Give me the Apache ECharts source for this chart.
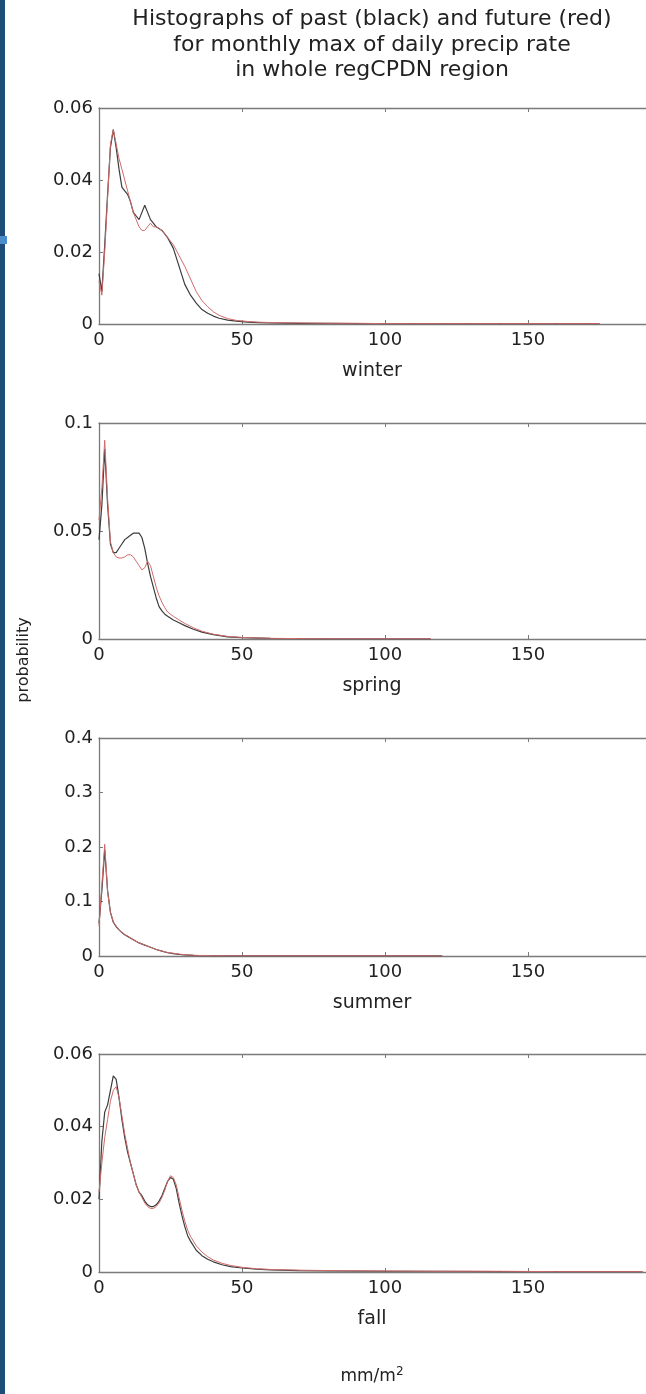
<!DOCTYPE html>
<html>
<head>
<meta charset="utf-8">
<script src="https://cdn.jsdelivr.net/npm/echarts@6/dist/echarts.min.js"></script>
<style>
html,body{margin:0;padding:0;background:#fff;}
#c{width:646px;height:1394px;}
</style>
</head>
<body>
<div id="c"></div>
<script>
// ---------------- data ----------------
const titleLines = ['Histographs of past (black) and future (red)', 'for monthly max of daily precip rate', 'in whole regCPDN region'];
const seasons = ['winter', 'spring', 'summer', 'fall'];
const yLabel = 'probability';
const xTicks = [0, 50, 100, 150];

const yMaxes = [0.06, 0.1, 0.4, 0.06];
const yIntervals = [0.02, 0.05, 0.1, 0.02];

const winterX = [0,1,2,3,4,5,6,7,8,9,10,11,12,13,14,15,16,17,18,19,20,22,24,26,28,30,32,34,36,38,40,42,45,48,52,56,60,70,80,90,100,110,120,130,140,150,160,170,175];
const winterPast = [0.014,0.009,0.022,0.036,0.049,0.054,0.049,0.043,0.038,0.037,0.036,0.034,0.031,0.030,0.029,0.031,0.033,0.031,0.029,0.028,0.027,0.026,0.024,0.021,0.016,0.011,0.008,0.0058,0.004,0.003,0.0022,0.0016,0.0011,0.0008,0.0005,0.0004,0.0003,0.0002,0.0002,0.0001,0.0001,0.0001,0.0001,0.0001,0.0001,0.0001,0.0001,0.0001,0.0001];
const winterFuture = [0.012,0.008,0.020,0.035,0.050,0.054,0.050,0.046,0.043,0.040,0.037,0.034,0.031,0.029,0.027,0.026,0.026,0.027,0.028,0.027,0.027,0.026,0.024,0.022,0.019,0.016,0.0125,0.009,0.0065,0.0048,0.0034,0.0024,0.0015,0.0010,0.0007,0.0005,0.0004,0.0003,0.0002,0.0002,0.0001,0.0001,0.0001,0.0001,0.0001,0.0001,0.0001,0.0001,0.0001];

const springX = [0,1,2,3,4,5,6,7,8,9,10,11,12,13,14,15,16,17,18,19,20,21,22,23,24,26,28,30,33,36,40,45,50,60,70,80,90,100,110,116];
const springPast = [0.046,0.062,0.088,0.062,0.044,0.040,0.040,0.042,0.044,0.046,0.047,0.048,0.049,0.049,0.049,0.047,0.042,0.035,0.029,0.024,0.019,0.015,0.013,0.0115,0.0105,0.0088,0.0075,0.0062,0.0045,0.0032,0.0020,0.0010,0.0006,0.0003,0.0002,0.0001,0.0001,0.0001,0.0001,0.0001];
const springFuture = [0.055,0.070,0.092,0.065,0.045,0.040,0.038,0.0375,0.0375,0.038,0.039,0.039,0.038,0.036,0.034,0.032,0.033,0.036,0.034,0.029,0.024,0.020,0.017,0.0145,0.0125,0.0105,0.0088,0.0072,0.0052,0.0036,0.0022,0.0012,0.0007,0.0003,0.0002,0.0001,0.0001,0.0001,0.0001,0.0001];

const summerX = [0,1,2,3,4,5,6,7,8,9,10,12,14,16,18,20,22,24,26,28,30,33,36,40,50,60,80,100,120];
const summerPast = [0.060,0.120,0.195,0.120,0.080,0.062,0.054,0.048,0.043,0.039,0.036,0.030,0.024,0.020,0.016,0.012,0.009,0.006,0.0045,0.003,0.002,0.0012,0.0007,0.0004,0.0002,0.0001,0.0001,0.0001,0.0001];
const summerFuture = [0.055,0.130,0.205,0.118,0.080,0.063,0.055,0.048,0.043,0.039,0.036,0.030,0.024,0.020,0.016,0.012,0.009,0.0065,0.005,0.0035,0.0024,0.0014,0.0008,0.0005,0.0002,0.0001,0.0001,0.0001,0.0001];

const fallX = [0,1,2,3,4,5,6,7,8,9,10,11,12,13,14,15,16,17,18,19,20,21,22,23,24,25,26,27,28,29,30,31,32,34,36,38,40,43,46,50,55,60,70,80,100,120,140,160,180,190];
const fallPast = [0.020,0.036,0.044,0.046,0.050,0.054,0.053,0.048,0.042,0.037,0.033,0.030,0.027,0.024,0.022,0.021,0.0195,0.0185,0.018,0.018,0.0185,0.0195,0.021,0.023,0.025,0.026,0.0255,0.023,0.019,0.0155,0.0125,0.010,0.0085,0.006,0.0045,0.0035,0.0028,0.002,0.0015,0.0011,0.0008,0.0006,0.0004,0.0003,0.0002,0.0002,0.0001,0.0001,0.0001,0.0001];
const fallFuture = [0.022,0.030,0.037,0.042,0.047,0.050,0.051,0.048,0.043,0.038,0.034,0.030,0.027,0.024,0.022,0.0205,0.019,0.018,0.0175,0.0175,0.018,0.019,0.0205,0.0225,0.025,0.0265,0.026,0.024,0.0205,0.017,0.014,0.0115,0.0098,0.0072,0.0055,0.0042,0.0033,0.0024,0.0018,0.0013,0.0009,0.0007,0.0005,0.0004,0.0003,0.0002,0.0002,0.0001,0.0001,0.0001];

const panelX = [winterX, springX, summerX, fallX];
const panelPast = [winterPast, springPast, summerPast, fallPast];
const panelFuture = [winterFuture, springFuture, summerFuture, fallFuture];

// ---------------- layout ----------------
const FONT = 'DejaVu Sans';
const gridTops = [108, 423, 738, 1054];
const gridHeights = [216, 216, 218, 218];
const gridLeft = 99;
const gridWidth = 572; // 0..200 ; right part falls outside the page like the reference
const axisColor = '#7a7a7a';
const textColor = '#222';

const grids = [], xAxes = [], yAxes = [], series = [], titles = [];
titles.push({
  text: titleLines.join('\n'), left: 372, top: 7, textAlign: 'center', padding: 0,
  textStyle: {fontFamily: FONT, fontSize: 22, fontWeight: 'normal', color: textColor, lineHeight: 25.5}
});
for (let i = 0; i < 4; i++) {
  grids.push({left: gridLeft, top: gridTops[i], width: gridWidth, height: gridHeights[i],
    containLabel: false, outerBoundsMode: 'none'});
  const common = {
    type: 'value', gridIndex: i, min: 0, max: 200, interval: 50,
    axisLine: {show: true, onZero: false, lineStyle: {color: axisColor, width: 1.3}},
    axisTick: {show: true, inside: true, length: 4, lineStyle: {color: axisColor}},
    splitLine: {show: false}
  };
  xAxes.push(Object.assign({}, common, {
    position: 'bottom',
    axisLabel: {show: true, fontFamily: FONT, fontSize: 18, color: textColor, margin: 7,
      formatter: v => xTicks.indexOf(v) >= 0 ? String(v) : ''}
  }));
  xAxes.push(Object.assign({}, common, {position: 'top', axisLabel: {show: false}}));
  yAxes.push({
    type: 'value', gridIndex: i, min: 0, max: yMaxes[i], interval: yIntervals[i],
    axisLine: {show: true, onZero: false, lineStyle: {color: axisColor, width: 1.3}},
    axisTick: {show: true, inside: true, length: 4, lineStyle: {color: axisColor}},
    splitLine: {show: false},
    axisLabel: {fontFamily: FONT, fontSize: 18, color: textColor, margin: 6,
      formatter: v => v === 0 ? '0' : String(+v.toFixed(3))}
  });
  const mk = (xs, ys) => xs.map((x, k) => [x, ys[k]]);
  series.push({type: 'line', xAxisIndex: 2 * i, yAxisIndex: i, data: mk(panelX[i], panelPast[i]),
    showSymbol: false, symbol: 'none', lineStyle: {color: '#3c3c3c', width: 1.2}, silent: true, z: 2});
  series.push({type: 'line', xAxisIndex: 2 * i, yAxisIndex: i, data: mk(panelX[i], panelFuture[i]),
    showSymbol: false, symbol: 'none', lineStyle: {color: '#cf6a6a', width: 1}, silent: true, z: 3});
  titles.push({
    text: seasons[i], left: 372, top: gridTops[i] + gridHeights[i] + 38, textAlign: 'center', padding: 0,
    textStyle: {fontFamily: FONT, fontSize: 19, fontWeight: 'normal', color: textColor}
  });
}
titles.push({
  text: 'mm/m{s|2}', left: 372, top: 1366, textAlign: 'center', padding: 0,
  textStyle: {fontFamily: FONT, fontSize: 17, fontWeight: 'normal', color: textColor,
    rich: {s: {fontFamily: FONT, fontSize: 12, verticalAlign: 'top', color: textColor, padding: [0, 0, 9, 0]}}}
});

const chart = echarts.init(document.getElementById('c'), null, {renderer: 'canvas'});
chart.setOption({
  animation: false,
  backgroundColor: '#ffffff',
  title: titles,
  grid: grids,
  xAxis: xAxes,
  yAxis: yAxes,
  series: series,
  graphic: [
    {type: 'rect', left: 0, top: 0, shape: {x: 0, y: 0, width: 5, height: 1394}, style: {fill: '#1d4c79'}, z: 100},
    {type: 'rect', left: 0, top: 236, shape: {x: 0, y: 0, width: 7, height: 8}, style: {fill: '#4a8ccc'}, z: 101},
    {type: 'text', x: 24, y: 660, rotation: Math.PI / 2, style: {text: yLabel, fontFamily: FONT, fontSize: 16,
      fill: textColor, textAlign: 'center', textVerticalAlign: 'middle'}, z: 100}
  ]
});
</script>
</body>
</html>
